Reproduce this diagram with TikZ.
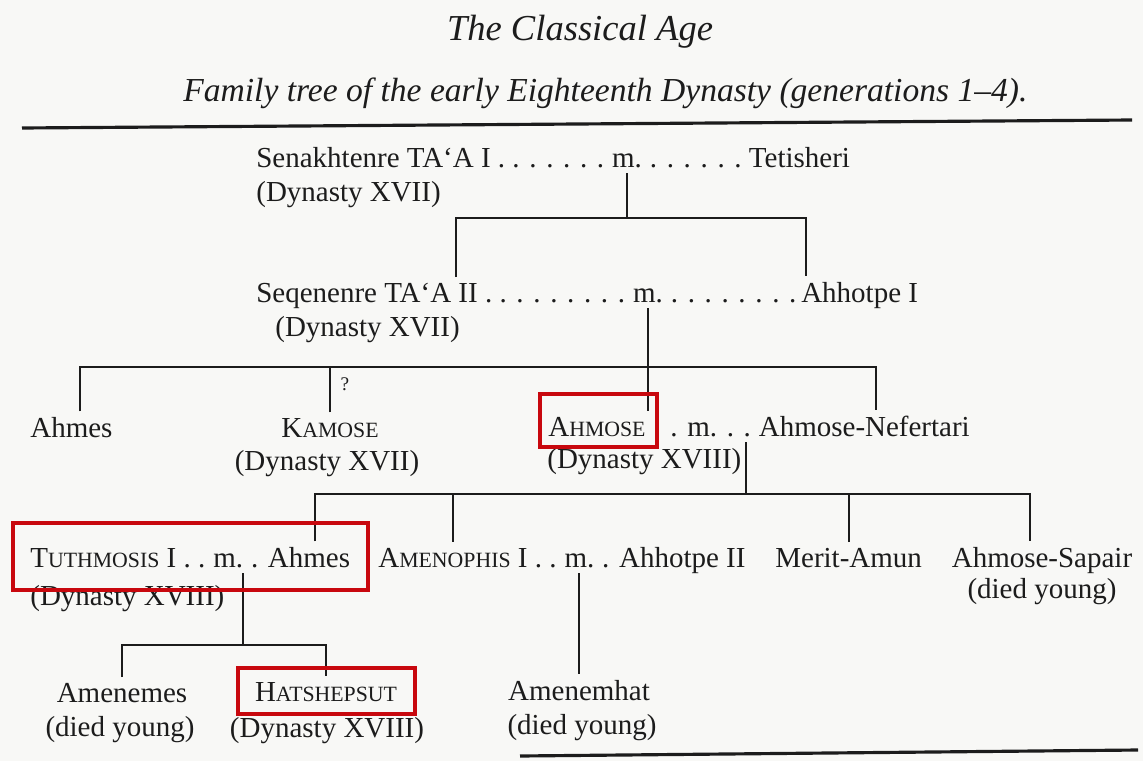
\documentclass[tikz,border=0pt]{standalone}
\usepackage{fontspec}
\setmainfont{Liberation Serif}
\usepackage{tikz}
\usetikzlibrary{positioning}

\definecolor{paper}{RGB}{248,248,246}
\definecolor{ink}{RGB}{28,28,28}
\definecolor{boxred}{RGB}{200,8,14}
\newcommand\treefont{\fontsize{16.5}{19}\selectfont}
\newcommand\lowcap[1]{{\fontsize{12.4}{14}\selectfont #1}}

\begin{document}
\begin{tikzpicture}[x=0.02cm, y=-0.02cm,
    person/.style={inner xsep=0pt, inner ysep=3pt, text=ink, font=\treefont},
    line/.style={draw=ink, line width=1.1pt},
    rule/.style={draw=ink, line width=1.8pt},
    redbox/.style={draw=boxred, line width=2.8pt}]
    \fill[paper] (0,0) rectangle (1143,761);

    % heading
    \node[person, anchor=base, font=\fontsize{20.8}{24}\selectfont\itshape] (title) at (580,40) {The Classical Age};
    \node[person, anchor=base west, font=\fontsize{19.1}{22}\selectfont\itshape] (subtitle) at (183,101)
        {Family tree of the early Eighteenth Dynasty (generations 1–4).};
    \draw[rule] (22,128) -- (1132,120);
    \draw[rule] (520,756) -- (1138,750);

    % generation 1
    \node[person, anchor=base west] (senakh) at (256,167) {Senakhtenre TA‘A I . . . . . . .\ \null};
    \node[person, base right=0pt of senakh] (m1) {m.};
    \node[person, base right=0pt of m1] (tetisheri) {\ . . . . . .\ Tetisheri};
    \node[person, anchor=base west] (senakhdyn) at (256,201) {(Dynasty XVII)};

    % generation 2
    \node[person, anchor=base west] (seqenenre) at (256,302) {Seqenenre TA‘A II . . . . . . . . .\ \null};
    \node[person, base right=0pt of seqenenre] (m2) {m.};
    \node[person, base right=0pt of m2] (ahhotpe) {\ . . . . . . . .\,Ahhotpe I};
    \node[person, anchor=base west] (seqdyn) at (275,336) {(Dynasty XVII)};

    % generation 3
    \node[person, anchor=base west] (ahmes) at (30,437) {Ahmes};
    \node[person, anchor=base] (kamose) at (330,437) {K\lowcap{AMOSE}};
    \node[person, anchor=base] (kamosedyn) at (327,470) {(Dynasty XVII)};
    \node[person, anchor=base, font=\fontsize{11}{12}\selectfont] (query) at (345,390) {?};
    \node[person, anchor=base west] (ahmose) at (548,436) {A\lowcap{HMOSE}};
    \node[person, base right=0pt of ahmose] (m3) {\ . . m. . .\ \null};
    \node[person, base right=0pt of m3] (nefertari) {Ahmose-Nefertari};
    \node[person, anchor=base west] (ahmosedyn) at (547,468) {(Dynasty XVIII)};

    % generation 4
    \node[person, anchor=base west] (tuthmosis) at (30,567) {T\lowcap{UTHMOSIS} I . .\ \null};
    \node[person, base right=0pt of tuthmosis] (m4) {m.};
    \node[person, base right=0pt of m4] (ahmesii) {\ . Ahmes};
    \node[person, anchor=base west] (tuthdyn) at (30,605) {(Dynasty XVIII)};
    \node[person, anchor=base west] (amenophis) at (378,567) {A\lowcap{MENOPHIS} I . .\ \null};
    \node[person, base right=0pt of amenophis] (m5) {m.};
    \node[person, base right=0pt of m5] (ahhotpeii) {\ . Ahhotpe II};
    \node[person, anchor=base west] (merit) at (775,567) {Merit-Amun};
    \node[person, anchor=base] (sapair) at (1042,567) {Ahmose-Sapair};
    \node[person, anchor=base] (sapairnote) at (1042,598) {(died young)};

    % generation 5
    \node[person, anchor=base] (amenemes) at (122,702) {Amenemes};
    \node[person, anchor=base] (amenemesnote) at (120,736) {(died young)};
    \node[person, anchor=base] (hatshepsut) at (326,701) {H\lowcap{ATSHEPSUT}};
    \node[person, anchor=base] (hatdyn) at (327,737) {(Dynasty XVIII)};
    \node[person, anchor=base] (amenemhat) at (579,700) {Amenemhat};
    \node[person, anchor=base] (amenemhatnote) at (582,734) {(died young)};

    % lines of descent
    \coordinate (b1w) at (456,218);
    \coordinate (b1e) at (806,218);
    \draw[line] (m1.south) -- (m1.south |- b1w);
    \draw[line] (seqenenre.north -| b1w) -- (b1w) -- (b1e) -- (ahhotpe.north -| b1e);

    \coordinate (b2w) at (80,367);
    \coordinate (b2e) at (876,367);
    \draw[line] (m2.south) -- (ahmose.north -| m2.south);
    \draw[line] (ahmes.north -| b2w) -- (b2w) -- (b2e) -- (nefertari.north -| b2e);
    \draw[line] (kamose.north) -- (kamose.north |- b2w);

    \coordinate (j3) at (746,442);
    \coordinate (b3w) at (315,494);
    \coordinate (b3a) at (453,494);
    \coordinate (b3e) at (1030,494);
    \draw[line] (j3) -- (j3 |- b3w);
    \draw[line] (ahmesii.north -| b3w) -- (b3w) -- (b3e) -- (sapair.north -| b3e);
    \draw[line] (b3a) -- (amenophis.north -| b3a);
    \draw[line] (merit.north) -- (merit.north |- b3w);

    \coordinate (b4) at (237,645);
    \draw[line] (m4.south east) -- (m4.south east |- b4);
    \draw[line] (amenemes.north) |- (m4.south east |- b4) -| (hatshepsut.north);
    \draw[line] (m5.south) -- (amenemhat.north -| m5.south);

    % highlighted kings
    \draw[redbox] (540,394) rectangle (657,447);
    \draw[redbox] (13,523) rectangle (368,590);
    \draw[redbox] (238,668) rectangle (415,714);
\end{tikzpicture}
\end{document}
